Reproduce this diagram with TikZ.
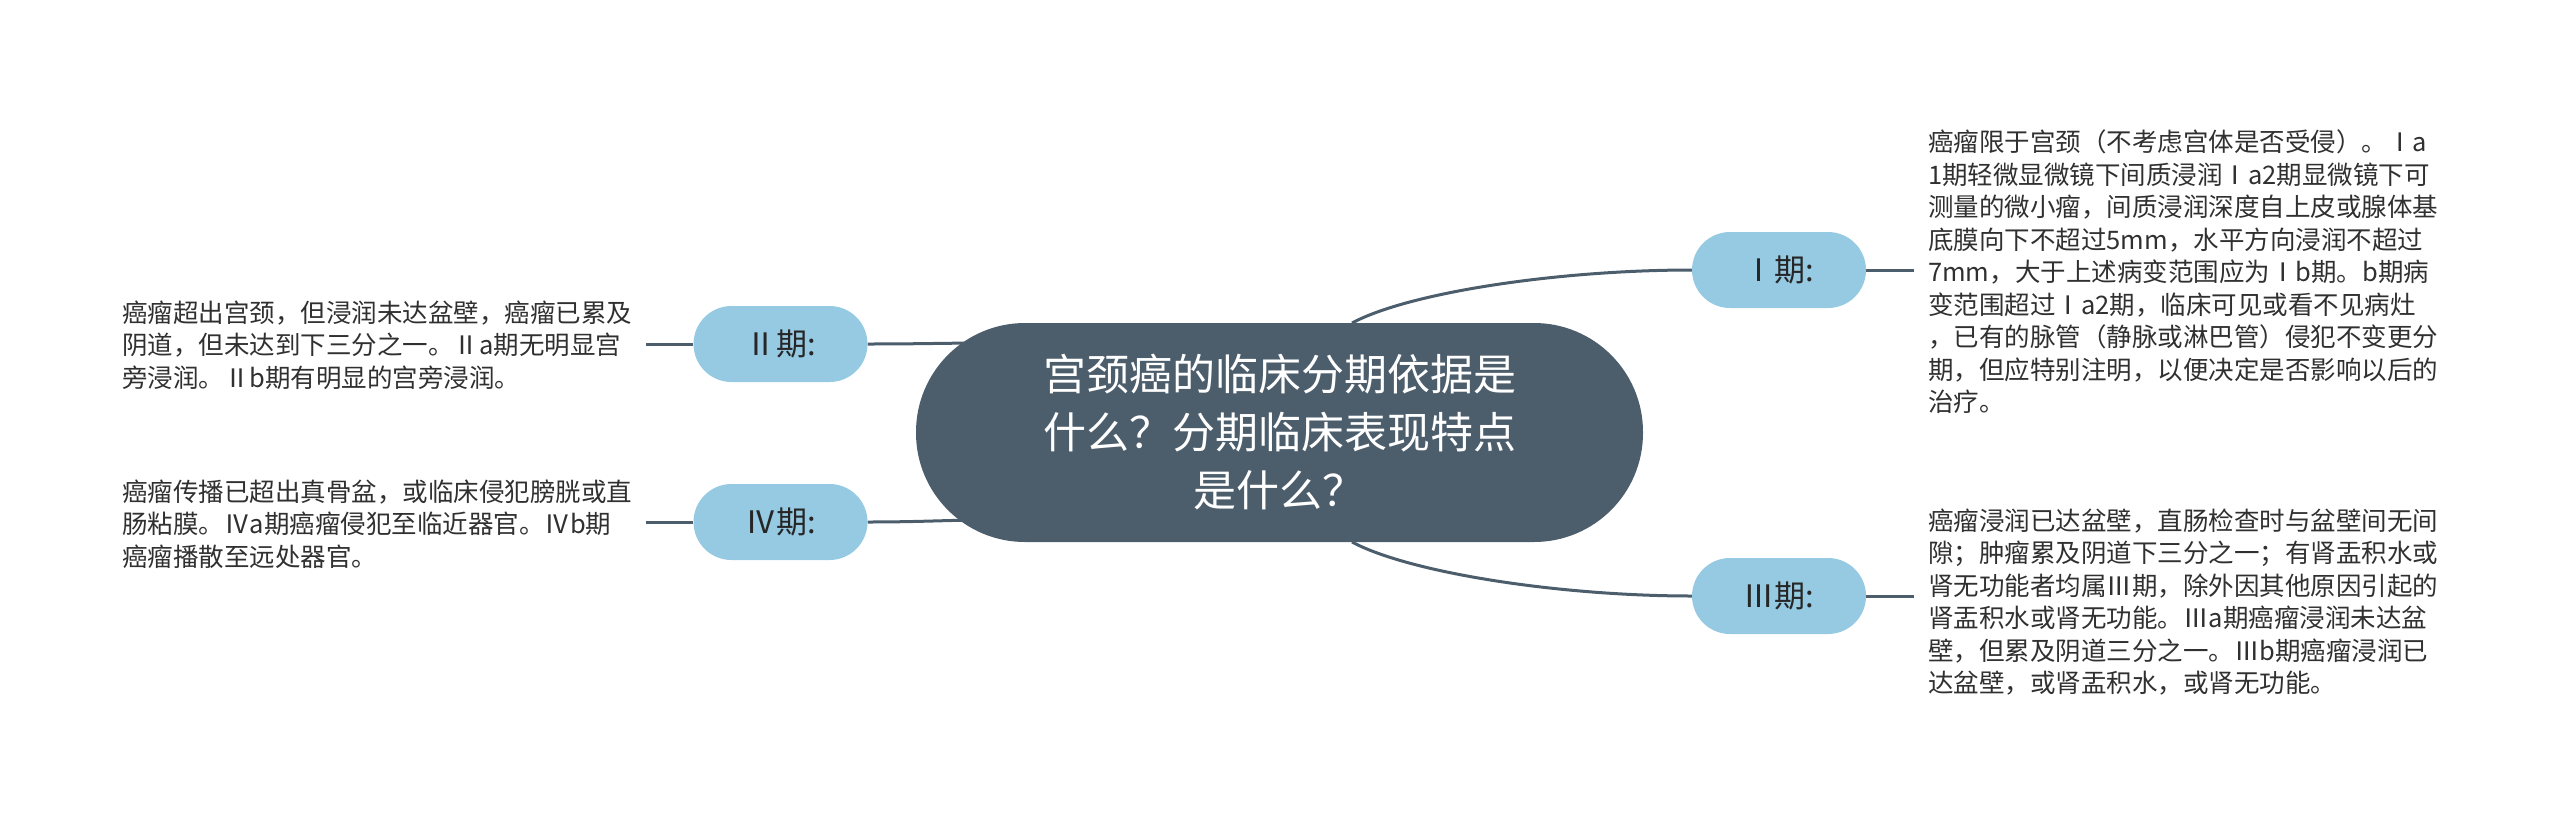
\documentclass[tikz,border=0pt]{standalone}
\usepackage{fontspec}
\newfontfamily\cjk{Noto Sans CJK SC}
\usetikzlibrary{backgrounds}
\definecolor{hub}{HTML}{4C5D6C}
\definecolor{leaf}{HTML}{95CAE2}
\definecolor{ink}{HTML}{262626}
\definecolor{body}{HTML}{303030}
\begin{document}
\begin{tikzpicture}[x=1pt,y=-1pt,
  hubbox/.style={fill=hub, text=white, rounded corners=109pt, minimum width=727pt, minimum height=219pt, inner sep=0pt, align=center, font=\cjk\fontsize{43}{58}\selectfont},
  stagebox/.style={fill=leaf, text=ink, rounded corners=38pt, minimum width=174pt, minimum height=76pt, inner sep=0pt, font=\cjk\fontsize{31}{36}\selectfont},
  note/.style={text=body, align=left, inner sep=0pt, anchor=west, font=\cjk\fontsize{25.5}{32.5}\selectfont},
  link/.style={draw=hub, line width=3pt}]
\useasboundingbox (0,0) rectangle (2560,817);
\node[hubbox] (c) at (1279.5,432.5) {宫颈癌的临床分期依据是\\什么？分期临床表现特点\\是什么？};
\node[stagebox] (s1) at (1779,270) {Ⅰ期:};
\node[stagebox] (s3) at (1779,596) {Ⅲ期:};
\node[stagebox] (s2) at (780.5,344) {Ⅱ期:};
\node[stagebox] (s4) at (780.5,522) {Ⅳ期:};
\node[note] (t1) at (1928,272) {癌瘤限于宫颈（不考虑宫体是否受侵）。Ⅰa\\1期轻微显微镜下间质浸润Ⅰa2期显微镜下可\\测量的微小瘤，间质浸润深度自上皮或腺体基\\底膜向下不超过5mm，水平方向浸润不超过\\7mm，大于上述病变范围应为Ⅰb期。b期病\\变范围超过Ⅰa2期，临床可见或看不见病灶\\，已有的脉管（静脉或淋巴管）侵犯不变更分\\期，但应特别注明，以便决定是否影响以后的\\治疗。};
\node[note] (t3) at (1928,602) {癌瘤浸润已达盆壁，直肠检查时与盆壁间无间\\隙；肿瘤累及阴道下三分之一；有肾盂积水或\\肾无功能者均属Ⅲ期，除外因其他原因引起的\\肾盂积水或肾无功能。Ⅲa期癌瘤浸润未达盆\\壁，但累及阴道三分之一。Ⅲb期癌瘤浸润已\\达盆壁，或肾盂积水，或肾无功能。};
\node[note] (t2) at (122,345) {癌瘤超出宫颈，但浸润未达盆壁，癌瘤已累及\\阴道，但未达到下三分之一。Ⅱa期无明显宫\\旁浸润。Ⅱb期有明显的宫旁浸润。};
\node[note] (t4) at (122,524) {癌瘤传播已超出真骨盆，或临床侵犯膀胱或直\\肠粘膜。Ⅳa期癌瘤侵犯至临近器官。Ⅳb期\\癌瘤播散至远处器官。};
\coordinate (c1) at (1352,323);
\coordinate (c3) at (1352,542);
\coordinate (c2) at (985,343);
\coordinate (c4) at (985,520);
\coordinate (e1) at (1914,270);
\coordinate (e3) at (1914,596);
\coordinate (e2) at (646,344);
\coordinate (e4) at (646,522);
\begin{scope}[on background layer]
\draw[link] (c1) .. controls (1410,292) and (1560,270) .. (s1.west);
\draw[link] (c3) .. controls (1410,573) and (1560,596) .. (s3.west);
\draw[link] (s2.east) .. controls (920,344) and (950,343) .. (c2);
\draw[link] (s4.east) .. controls (920,522) and (950,520) .. (c4);
\draw[link] (s1.east) -- (e1);
\draw[link] (s3.east) -- (e3);
\draw[link] (e2) -- (s2.west);
\draw[link] (e4) -- (s4.west);
\end{scope}
\end{tikzpicture}
\end{document}
